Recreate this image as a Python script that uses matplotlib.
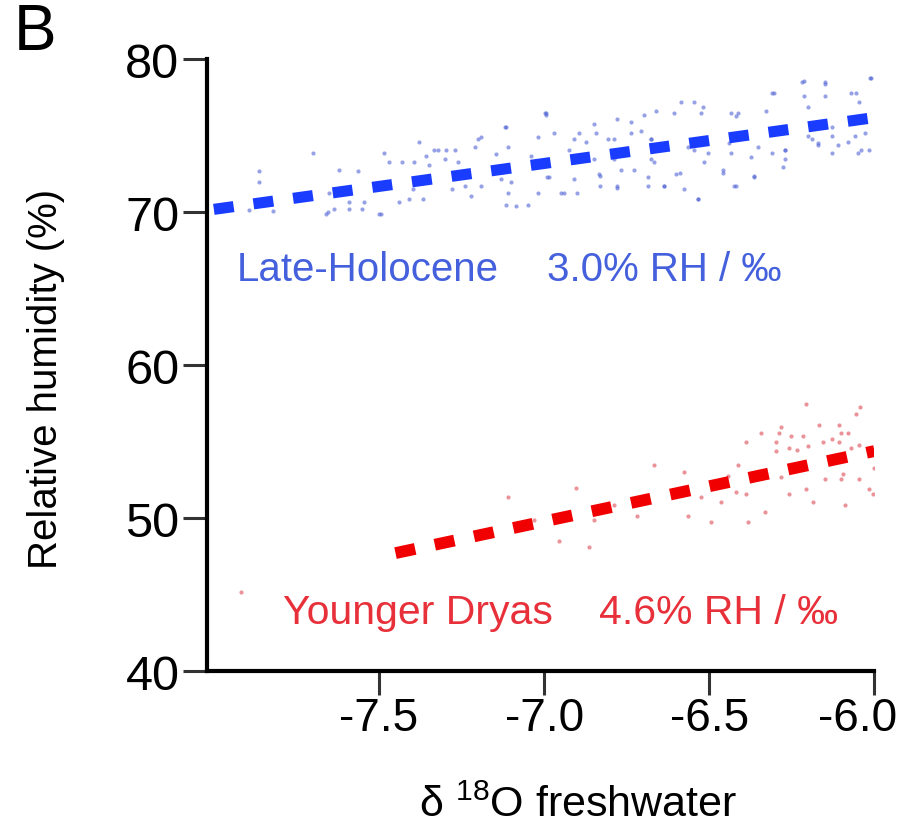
import matplotlib
matplotlib.use("Agg")
import matplotlib.pyplot as plt
import matplotlib.transforms as mtransforms

plt.rcParams["font.family"] = ["Liberation Sans", "DejaVu Sans"]
plt.rcParams["mathtext.fontset"] = "custom"
plt.rcParams["mathtext.rm"] = "Liberation Sans"

# Late-Holocene scatter
lh_x = [-7.864, -7.864, -7.894, -7.82, -7.70, -7.65, -7.66, -7.636, -7.62, -7.564,
        -7.59, -7.545, -7.55, -7.59, -7.485, -7.47, -7.43, -7.394, -7.5, -7.44,
        -7.397, -7.41, -7.38, -7.357, -7.35, -7.367,
        -7.32, -7.297, -7.27, -7.30, -7.26, -7.28, -7.24, -7.22, -7.19, -7.19,
        -7.21, -6.994, -7.115, -7.11, -7.145, -7.13, -7.10, -7.11, -7.115, -7.085,
        -7.05, -7.02, -7.02, -7.04, -6.985, -6.94, -6.924, -6.91, -6.894, -6.873,
        -6.85, -6.842, -6.806, -6.833, -6.83, -6.78, -6.78, -6.736, -6.697, -6.706,
        -6.676, -6.727, -6.685, -6.676, -6.79, -6.767,
        -6.585, -6.545, -6.524, -6.606, -6.66, -6.667, -6.636, -6.6, -6.576, -6.533,
        -6.515, -6.545, -6.458, -6.433, -6.424, -6.373, -6.364, -6.433, -6.42, -6.303,
        -6.327, -6.31, -6.27, -6.27, -6.212, -6.212, -6.2, -6.15, -6.15, -6.19,
        -6.17, -6.13, -6.11, -6.07, -6.048, -6.01, -6.03, -6.05, -6.018, -6.08, -6.13,
        -6.994, -6.99, -6.95, -6.9, -6.83, -6.78, -6.685, -6.636, -6.59, -6.533,
        -6.458, -6.418, -6.364, -6.276, -6.79, -6.736, -6.676, -6.52, -6.412, -6.31,
        -6.218, -6.15, -6.015, -6.055, -6.2, -6.17, -6.04, -6.06, -6.13, -6.27,
        -6.352, -6.44, -6.503, -6.564, -6.85, -6.91, -6.97,
        -7.655, -7.494, -7.333, -7.2, -7.12, -6.997]
lh_y = [72.68, 71.96, 70.13, 70.07, 73.86, 71.3, 69.9, 70.2, 72.8, 72.7,
        70.7, 70.7, 70.2, 70.2, 73.86, 73.27, 73.3, 73.3, 69.9, 70.7,
        71.5, 70.85, 74.6, 73.66, 73.1, 70.85,
        74.1, 74.1, 74.1, 73.46, 73.3, 71.5, 71.7, 71.05, 71.7, 74.9,
        74.25, 76.4, 75.56, 74.25, 73.8, 72.16, 71.96, 71.3, 70.5, 70.4,
        70.5, 71.3, 74.9, 73.66, 72.3, 71.3, 74.1, 72.16, 75.2, 74.6,
        75.75, 75.2, 74.8, 72.5, 71.7, 71.7, 76.1, 75.9, 76.4, 75.3,
        74.77, 72.8, 72.3, 73.46, 73.46, 72.8,
        77.2, 77.2, 76.5, 76.5, 76.6, 73.27, 71.7, 72.5, 71.5, 70.85,
        73.27, 74.1, 72.8, 73.9, 71.7, 73.6, 72.3, 76.5, 76.3, 77.8,
        76.6, 73.9, 73.46, 74.1, 78.56, 77.6, 76.9, 78.4, 77.6, 74.77,
        74.4, 73.9, 74.4, 77.8, 77.25, 78.8, 75.2, 73.9, 74.1, 74.6, 75.0,
        76.5, 72.3, 71.3, 71.3, 72.35, 71.6, 71.7, 71.7, 72.6, 70.85,
        72.6, 71.7, 72.35, 73.0, 74.77, 75.2, 74.77, 76.9, 76.5, 77.8,
        78.5, 78.5, 78.8, 77.8, 74.97, 74.56, 74.1, 74.97, 75.6, 74.1,
        74.3, 74.56, 73.9, 74.3, 73.46, 74.77, 75.2,
        70.0, 69.87, 74.1, 74.77, 75.6, 76.5]

# Younger Dryas scatter
yd_x = [-7.918, -7.11, -6.903, -7.03, -6.955, -6.864, -6.788, -6.85,
        -6.667, -6.576, -6.72, -6.564, -6.494, -6.524, -6.464, -6.443, -6.412, -6.418,
        -6.388, -6.382, -6.33, -6.388, -6.342, -6.29, -6.282, -6.297, -6.297, -6.252,
        -6.215, -6.26, -6.236, -6.2, -6.206, -6.167, -6.282, -6.26, -6.206, -6.185,
        -6.15, -6.155, -6.13, -6.106, -6.1, -6.08, -6.106, -6.094, -6.1, -6.09,
        -6.07, -6.048, -6.045, -6.055, -6.048, -6.018, -6.003, -6.0]
yd_y = [45.2, 51.37, 52.0, 49.9, 48.5, 48.1, 50.9, 49.9,
        53.5, 53.0, 50.13, 50.13, 49.74, 51.37, 51.1, 52.75, 53.5, 51.7,
        51.57, 49.74, 50.4, 54.97, 55.6, 55.6, 56.0, 54.97, 54.4, 55.36,
        55.36, 54.6, 54.5, 54.7, 57.45, 56.1, 52.7, 51.57, 51.9, 51.1,
        52.55, 54.97, 55.16, 56.1, 55.6, 55.6, 55.0, 52.9, 52.55, 50.9,
        54.6, 54.8, 57.3, 56.8, 52.55, 51.9, 51.57, 53.3]

# regression lines: endpoints and slopes (% RH per permil)
lh_fit_x = [-8.0, -6.0]
lh_slope, lh_at_end = 3.0, 76.2
yd_fit_x = [-7.45, -6.0]
yd_slope, yd_at_end = 4.6, 54.4

lh_fit_y = [lh_at_end + lh_slope * (x + 6.0) for x in lh_fit_x]
yd_fit_y = [yd_at_end + yd_slope * (x + 6.0) for x in yd_fit_x]

xticks = [-7.5, -7.0, -6.5, -6.0]
yticks = [40, 50, 60, 70, 80]

fig = plt.figure(figsize=(9.09, 8.28), dpi=100)
ax = fig.add_axes([0.228, 0.188, 0.734, 0.739])

ax.scatter(lh_x, lh_y, s=9, color="#5064d4", alpha=0.6, linewidths=0)
ax.scatter(yd_x, yd_y, s=9, color="#e04a55", alpha=0.6, linewidths=0)

ax.plot(lh_fit_x, lh_fit_y, color="#1a3cff", lw=8, dashes=(1.8, 1.8))
ax.plot(yd_fit_x, yd_fit_y, color="#f00000", lw=8.5, dashes=(1.7, 1.7))

ax.text(-7.93, 66.3, "Late-Holocene", color="#4560dc", fontsize=29, va="center")
ax.text(-6.99, 66.3, "3.0% RH / \u2030", color="#4560dc", fontsize=29, va="center")
ax.text(-7.79, 43.9, "Younger Dryas", color="#e8303a", fontsize=29.5, va="center")
ax.text(-6.835, 43.9, "4.6% RH / \u2030", color="#e8303a", fontsize=29.5, va="center")

ax.set_xlim(-8.02, -6.0)
ax.set_ylim(40, 80)
ax.set_xticks(xticks)
ax.set_xticklabels([f"{t:.1f}" for t in xticks])
ax.set_yticks(yticks)

for side in ("top", "right"):
    ax.spines[side].set_visible(False)
for side in ("left", "bottom"):
    ax.spines[side].set_linewidth(3)
ax.spines["bottom"].set_capstyle("projecting")

ax.tick_params(axis="both", length=17, width=2.2, labelsize=33, color="#333333")
ax.tick_params(axis="y", labelsize=35, pad=3)
ax.tick_params(axis="x", pad=1)

# last x label sits a little left so it stays inside the figure
last = ax.get_xticklabels()[-1]
last.set_transform(last.get_transform()
                   + mtransforms.ScaledTranslation(-0.17, 0, fig.dpi_scale_trans))

ax.set_xlabel("\u03b4 $^{18}$O freshwater", fontsize=31)
ax.xaxis.set_label_coords(0.556, -0.185)
ax.set_ylabel("Relative humidity (%)", fontsize=29)
ax.yaxis.set_label_coords(-0.213, 0.48)

fig.text(0.015, 0.96, "B", fontsize=46, va="center", ha="left")

fig.savefig("out.png", dpi=100)
